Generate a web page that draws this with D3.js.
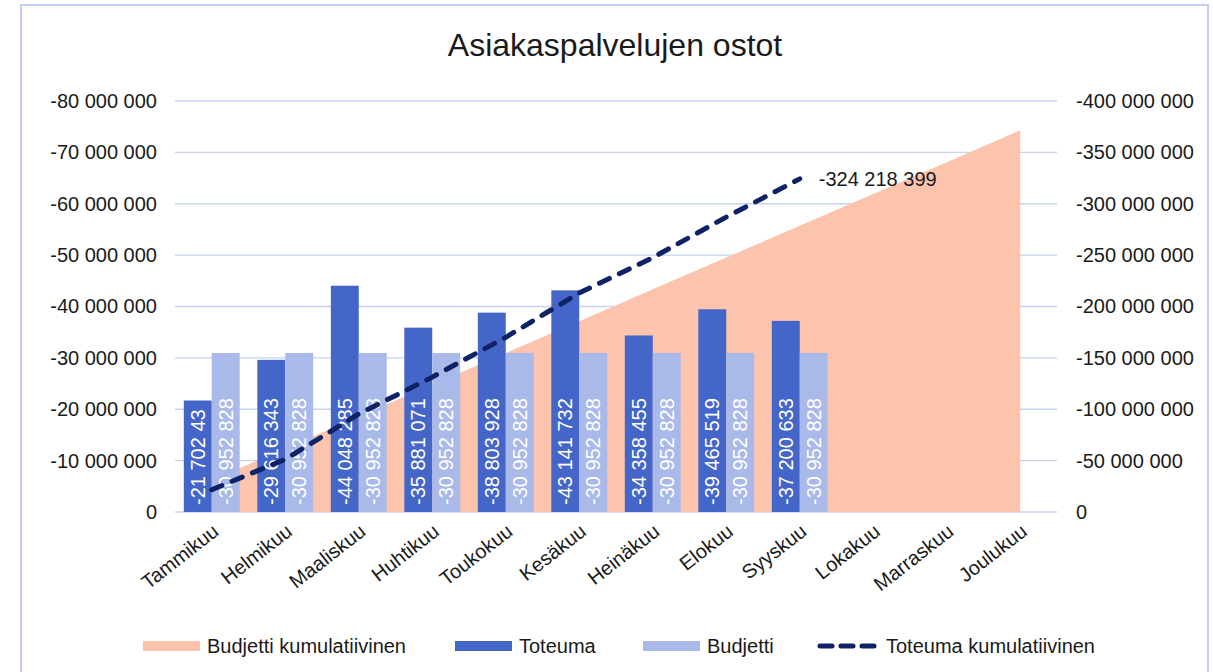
<!DOCTYPE html>
<html>
<head>
<meta charset="utf-8">
<script src="https://cdn.jsdelivr.net/npm/d3@7"></script>
<style>
	body { margin: 0; background: #ffffff; }
	text { font-family: "Liberation Sans", Arial, sans-serif; }
</style>
</head>
<body>
<svg id="chart" width="1213" height="672"></svg>
<script>
// data
var months = ["Tammikuu", "Helmikuu", "Maaliskuu", "Huhtikuu", "Toukokuu", "Kesäkuu",
	"Heinäkuu", "Elokuu", "Syyskuu", "Lokakuu", "Marraskuu", "Joulukuu"];
var toteuma = [-21702433, -29616343, -44048285, -35881071, -38803928, -43141732,
	-34358455, -39465519, -37200633];
var budjetti = [-30952828, -30952828, -30952828, -30952828, -30952828, -30952828,
	-30952828, -30952828, -30952828];
var budjettiKum = [-30952828, -61905656, -92858484, -123811312, -154764140, -185716968,
	-216669796, -247622624, -278575452, -309528280, -340481108, -371433936];
var toteumaKum = [-21702433, -51318776, -95367061, -131248132, -170052060, -213193792,
	-247552247, -287017766, -324218399];
var leftTicks = [0, -10e6, -20e6, -30e6, -40e6, -50e6, -60e6, -70e6, -80e6];
var rightTicks = [0, -50e6, -100e6, -150e6, -200e6, -250e6, -300e6, -350e6, -400e6];
var seriesNames = ["Budjetti kumulatiivinen", "Toteuma", "Budjetti", "Toteuma kumulatiivinen"];

var colors = {
	area: '#fcc3ad',
	toteuma: '#4566c9',
	budjetti: '#a9b9e9',
	line: '#0f2266',
	grid: '#c9d3f1',
	border: '#c4d0f2'
};

var left = 175, right = 1057, top0 = 101, bottom = 512;

var fi = d3.formatLocale({decimal: ",", thousands: " ", grouping: [3], currency: ["", " €"], minus: "-"});
var fmt = fi.format(",d");

var svg = d3.select('#chart');

// frame
svg.append('rect')
	.attr('x', 21).attr('y', 5)
	.attr('width', 1187).attr('height', 690)
	.attr('fill', '#ffffff')
	.attr('stroke', colors.border)
	.attr('stroke-width', 2);

svg.append('text')
	.attr('x', 615).attr('y', 56)
	.attr('text-anchor', 'middle')
	.attr('font-size', 32)
	.attr('fill', '#1a1a1a')
	.text("Asiakaspalvelujen ostot");

var x0 = d3.scaleBand()
	.domain(months)
	.range([left, right])
	.paddingInner(0.24)
	.paddingOuter(0.12);
var x1 = d3.scaleBand()
	.domain(["toteuma", "budjetti"])
	.range([0, x0.bandwidth()]);
var yL = d3.scaleLinear().domain([0, -80e6]).range([bottom, top0]);
var yR = d3.scaleLinear().domain([0, -400e6]).range([bottom, top0]);

function cx(m){
	return x0(m) + x0.bandwidth() / 2;
}

// gridlines
svg.append('g')
	.selectAll('line')
	.data(leftTicks)
	.join('line')
		.attr('x1', left).attr('x2', right)
		.attr('y1', d => yL(d)).attr('y2', d => yL(d))
		.attr('stroke', colors.grid)
		.attr('stroke-width', 1.3);

// left axis
var axL = svg.append('g')
	.attr('transform', `translate(${left - 18}, 0)`)
	.call(d3.axisLeft(yL).tickValues(leftTicks).tickFormat(fmt).tickSize(0).tickPadding(0));
axL.select('.domain').remove();
axL.selectAll('text').attr('font-size', 20).attr('fill', '#1a1a1a').attr('font-family', null);

// right axis
var axR = svg.append('g')
	.attr('transform', `translate(${right + 19}, 0)`)
	.call(d3.axisRight(yR).tickValues(rightTicks).tickFormat(fmt).tickSize(0).tickPadding(0));
axR.select('.domain').remove();
axR.selectAll('text').attr('font-size', 20).attr('fill', '#1a1a1a').attr('font-family', null);

// cumulative budget area
var area = d3.area()
	.x((d, i) => cx(months[i]))
	.y0(yR(0))
	.y1(d => yR(d));
svg.append('path')
	.datum(budjettiKum)
	.attr('d', area)
	.attr('fill', colors.area);

// bars
var barData = [];
toteuma.forEach((v, i) => barData.push({m: months[i], k: "toteuma", v: v}));
budjetti.forEach((v, i) => barData.push({m: months[i], k: "budjetti", v: v}));

var barG = svg.append('g')
	.selectAll('g')
	.data(barData)
	.join('g')
		.attr('transform', d => `translate(${x0(d.m) + x1(d.k)}, 0)`);
barG.append('rect')
	.attr('y', d => yL(d.v))
	.attr('width', x1.bandwidth())
	.attr('height', d => yL(0) - yL(d.v))
	.attr('fill', d => colors[d.k]);

barG.append('text')
	.attr('transform', `translate(${x1.bandwidth() / 2 + 7}, ${bottom - 7}) rotate(-90)`)
	.attr('font-size', 20)
	.attr('fill', '#ffffff')
	.text(d => fmt(d.v))
	.each(function(d){
		// cut text that does not fit in the bar, as the original does
		let room = yL(0) - yL(d.v) - 8;
		let t = d3.select(this);
		let s = fmt(d.v);
		while(this.getComputedTextLength() > room && s.length > 1){
			s = s.slice(0, -1);
			t.text(s);
		}
	});

// cumulative actual line
var line = d3.line()
	.x((d, i) => cx(months[i]))
	.y(d => yR(d));
svg.append('path')
	.datum(toteumaKum)
	.attr('d', line)
	.attr('fill', 'none')
	.attr('stroke', colors.line)
	.attr('stroke-width', 5)
	.attr('stroke-linecap', 'round')
	.attr('stroke-dasharray', '11,11');

var last = toteumaKum.length - 1;
svg.append('text')
	.attr('x', cx(months[last]) + 19)
	.attr('y', yR(toteumaKum[last]) + 7)
	.attr('font-size', 20)
	.attr('fill', '#1a1a1a')
	.text(fmt(toteumaKum[last]));

// category labels
svg.append('g')
	.selectAll('text')
	.data(months)
	.join('text')
		.attr('transform', d => `translate(${cx(d) - 1}, 522) rotate(-38)`)
		.attr('text-anchor', 'end')
		.attr('dy', '0.75em')
		.attr('font-size', 20)
		.attr('fill', '#1a1a1a')
		.text(d => d);

// legend
var legendX = [143, 455, 643, 817];
var legG = svg.append('g')
	.selectAll('g')
	.data(seriesNames)
	.join('g')
		.attr('transform', (d, i) => `translate(${legendX[i]}, 646)`);
legG.each(function(d, i){
	let g = d3.select(this);
	if(i < 3){
		g.append('rect')
			.attr('y', -5)
			.attr('width', 57)
			.attr('height', 10)
			.attr('fill', [colors.area, colors.toteuma, colors.budjetti][i]);
	}else{
		g.append('line')
			.attr('x1', 3).attr('x2', 60)
			.attr('stroke', colors.line)
			.attr('stroke-width', 5)
			.attr('stroke-linecap', 'round')
			.attr('stroke-dasharray', '12,9');
	}
	g.append('text')
		.attr('x', i < 3 ? 64 : 69)
		.attr('y', 7)
		.attr('font-size', 20)
		.attr('fill', '#1a1a1a')
		.text(d);
});
</script>
</body>
</html>
